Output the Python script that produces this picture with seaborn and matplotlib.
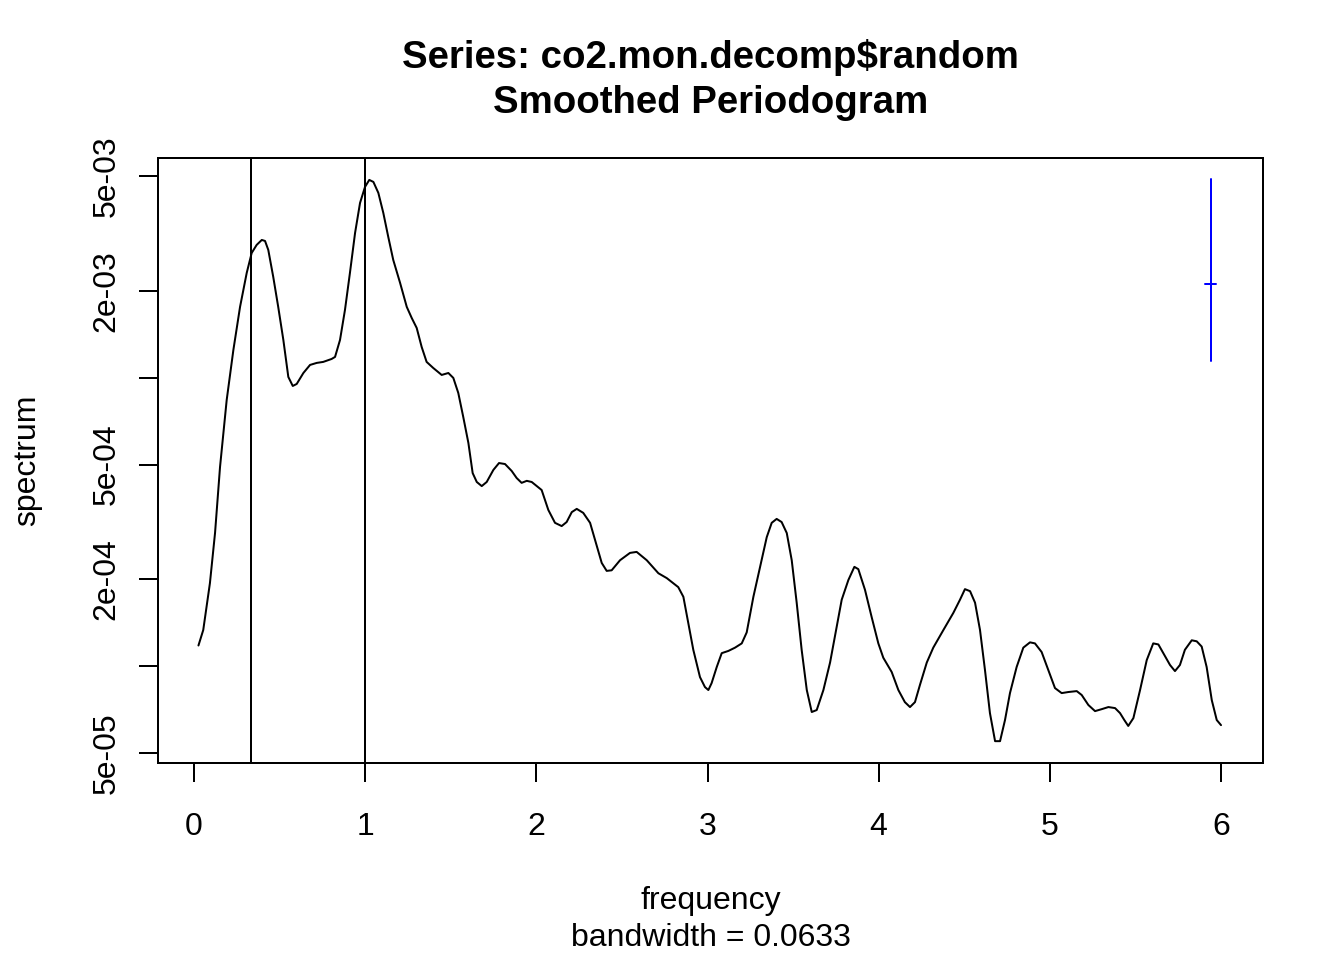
import numpy as np
import pandas as pd
import seaborn as sns
import matplotlib
matplotlib.use("Agg")
import matplotlib.pyplot as plt
from matplotlib.ticker import FixedLocator, NullLocator

# smoothed periodogram, values
freq = [0.026, 0.054, 0.093, 0.123, 0.152, 0.191, 0.230, 0.269, 0.308, 0.337,
        0.366, 0.396, 0.415, 0.434, 0.463, 0.492, 0.522, 0.551, 0.577, 0.600,
        0.639, 0.678, 0.717, 0.755, 0.804, 0.824, 0.853, 0.882, 0.911, 0.941,
        0.970, 0.999, 1.024, 1.048, 1.077, 1.106, 1.135, 1.164, 1.204, 1.243,
        1.272, 1.301, 1.330, 1.359, 1.398, 1.447, 1.486, 1.515, 1.544, 1.573,
        1.603, 1.628, 1.652, 1.681, 1.710, 1.749, 1.782, 1.817, 1.856, 1.885,
        1.914, 1.944, 1.973, 2.031, 2.070, 2.109, 2.148, 2.177, 2.207, 2.236,
        2.274, 2.314, 2.343, 2.382, 2.411, 2.440, 2.489, 2.547, 2.586, 2.645,
        2.713, 2.762, 2.829, 2.859, 2.888, 2.917, 2.956, 2.985, 3.005, 3.024,
        3.054, 3.083, 3.122, 3.161, 3.200, 3.229, 3.268, 3.307, 3.346, 3.375,
        3.404, 3.433, 3.463, 3.492, 3.521, 3.550, 3.580, 3.609, 3.638, 3.677,
        3.716, 3.755, 3.784, 3.823, 3.858, 3.881, 3.920, 3.959, 3.998, 4.027,
        4.076, 4.115, 4.153, 4.183, 4.212, 4.241, 4.281, 4.319, 4.378, 4.436,
        4.475, 4.504, 4.534, 4.563, 4.592, 4.621, 4.650, 4.680, 4.709, 4.738,
        4.767, 4.806, 4.845, 4.884, 4.913, 4.952, 4.991, 5.030, 5.069, 5.108,
        5.157, 5.186, 5.225, 5.264, 5.303, 5.342, 5.381, 5.410, 5.435, 5.458,
        5.488, 5.527, 5.566, 5.604, 5.634, 5.663, 5.702, 5.731, 5.760, 5.789,
        5.829, 5.858, 5.887, 5.916, 5.946, 5.975, 6.000]
spec = [1.18e-4, 1.335e-4, 1.94e-4, 2.90e-4, 4.90e-4, 8.37e-4, 1.247e-3, 1.759e-3, 2.307e-3, 2.705e-3,
        2.884e-3, 3.001e-3, 2.977e-3, 2.771e-3, 2.234e-3, 1.759e-3, 1.351e-3, 1.006e-3, 9.36e-4, 9.51e-4,
        1.038e-3, 1.107e-3, 1.125e-3, 1.134e-3, 1.161e-3, 1.18e-3, 1.351e-3, 1.717e-3, 2.307e-3, 3.174e-3,
        4.032e-3, 4.581e-3, 4.845e-3, 4.768e-3, 4.368e-3, 3.723e-3, 3.073e-3, 2.559e-3, 2.130e-3, 1.759e-3,
        1.61e-3, 1.487e-3, 1.278e-3, 1.134e-3, 1.080e-3, 1.022e-3, 1.038e-3, 9.98e-4, 8.85e-4, 7.31e-4,
        5.94e-4, 4.67e-4, 4.35e-4, 4.21e-4, 4.35e-4, 4.79e-4, 5.06e-4, 5.02e-4, 4.75e-4, 4.49e-4,
        4.32e-4, 4.39e-4, 4.35e-4, 4.08e-4, 3.48e-4, 3.14e-4, 3.06e-4, 3.16e-4, 3.42e-4, 3.51e-4,
        3.40e-4, 3.14e-4, 2.74e-4, 2.28e-4, 2.14e-4, 2.15e-4, 2.33e-4, 2.47e-4, 2.49e-4, 2.33e-4,
        2.10e-4, 2.02e-4, 1.88e-4, 1.74e-4, 1.41e-4, 1.14e-4, 9.17e-5, 8.47e-5, 8.27e-5, 8.74e-5,
        9.94e-5, 1.11e-4, 1.13e-4, 1.16e-4, 1.20e-4, 1.31e-4, 1.74e-4, 2.21e-4, 2.80e-4, 3.14e-4,
        3.24e-4, 3.16e-4, 2.895e-4, 2.33e-4, 1.66e-4, 1.14e-4, 8.27e-5, 6.94e-5, 7.05e-5, 8.27e-5,
        1.03e-4, 1.37e-4, 1.70e-4, 1.99e-4, 2.21e-4, 2.17e-4, 1.84e-4, 1.48e-4, 1.20e-4, 1.07e-4,
        9.55e-5, 8.27e-5, 7.51e-5, 7.22e-5, 7.51e-5, 8.61e-5, 1.03e-4, 1.16e-4, 1.335e-4, 1.53e-4,
        1.70e-4, 1.85e-4, 1.82e-4, 1.66e-4, 1.335e-4, 9.70e-5, 6.88e-5, 5.50e-5, 5.50e-5, 6.51e-5,
        8.07e-5, 9.94e-5, 1.16e-4, 1.21e-4, 1.20e-4, 1.12e-4, 9.70e-5, 8.40e-5, 8.07e-5, 8.14e-5,
        8.20e-5, 7.95e-5, 7.34e-5, 6.99e-5, 7.10e-5, 7.22e-5, 7.16e-5, 6.88e-5, 6.51e-5, 6.21e-5,
        6.61e-5, 8.27e-5, 1.05e-4, 1.20e-4, 1.19e-4, 1.11e-4, 1.01e-4, 9.62e-5, 1.01e-4, 1.14e-4,
        1.23e-4, 1.22e-4, 1.17e-4, 9.94e-5, 7.63e-5, 6.51e-5, 6.25e-5]

vlines = [1 / 3, 1.0]

bandwidth = 0.0633
ci_x = 5.94
ci_low, ci_mid, ci_high = 1.146e-3, 2.118e-3, 4.87e-3

x_ticks = [0, 1, 2, 3, 4, 5, 6]
y_ticks = [5e-5, 1e-4, 2e-4, 5e-4, 1e-3, 2e-3, 5e-3]
y_tick_labels = ["5e-05", "", "2e-04", "5e-04", "", "2e-03", "5e-03"]

df = pd.DataFrame({"frequency": freq, "spectrum": spec})

sns.set_style("ticks")
plt.rcParams["font.family"] = ["Liberation Sans", "DejaVu Sans"]
plt.rcParams["text.color"] = "black"

fig = plt.figure(figsize=(7, 5), dpi=192)
ax = fig.add_axes([0.1176, 0.2052, 0.8221, 0.6302])

sns.lineplot(data=df, x="frequency", y="spectrum", color="black", lw=0.75,
             estimator=None, sort=False, ax=ax)
ax.set_yscale("log")

for v in vlines:
    ax.axvline(v, color="black", lw=0.75)

# confidence interval bar
ax.plot([ci_x, ci_x], [ci_low, ci_high], color="blue", lw=0.75)
ax.plot([ci_x - bandwidth / 2, ci_x + bandwidth / 2], [ci_mid, ci_mid], color="blue", lw=0.75)

ax.set_xlim(-0.210, 6.245)
ax.set_ylim(4.62e-5, 5.77e-3)
ax.set_xticks(x_ticks)
ax.set_xticklabels([str(t) for t in x_ticks])
ax.yaxis.set_major_locator(FixedLocator(y_ticks))
ax.yaxis.set_minor_locator(NullLocator())
ax.set_yticklabels(y_tick_labels, rotation=90, va="center")
ax.tick_params(axis="both", which="major", direction="out", length=7.2, width=0.75,
               labelsize=12, color="black", labelcolor="black",
               bottom=True, left=True, top=False, right=False)
ax.tick_params(axis="x", pad=11)
ax.tick_params(axis="y", pad=6.5)
for s in ax.spines.values():
    s.set_visible(True)
    s.set_color("black")
    s.set_linewidth(0.75)

ax.set_xlabel("")
ax.set_ylabel("")
fig.text(0.5286, 0.9396, "Series: co2.mon.decomp$random", ha="center", va="center",
         fontsize=14.4, fontweight="bold", color="black")
fig.text(0.5286, 0.8927, "Smoothed Periodogram", ha="center", va="center",
         fontsize=14.4, fontweight="bold", color="black")
fig.text(0.5286, 0.0615, "frequency", ha="center", va="center", fontsize=12, color="black")
fig.text(0.5286, 0.0229, "bandwidth = 0.0633", ha="center", va="center", fontsize=12, color="black")
fig.text(0.0201, 0.5203, "spectrum", ha="center", va="center", rotation=90, fontsize=12, color="black")

fig.savefig("out.png", dpi=192)
